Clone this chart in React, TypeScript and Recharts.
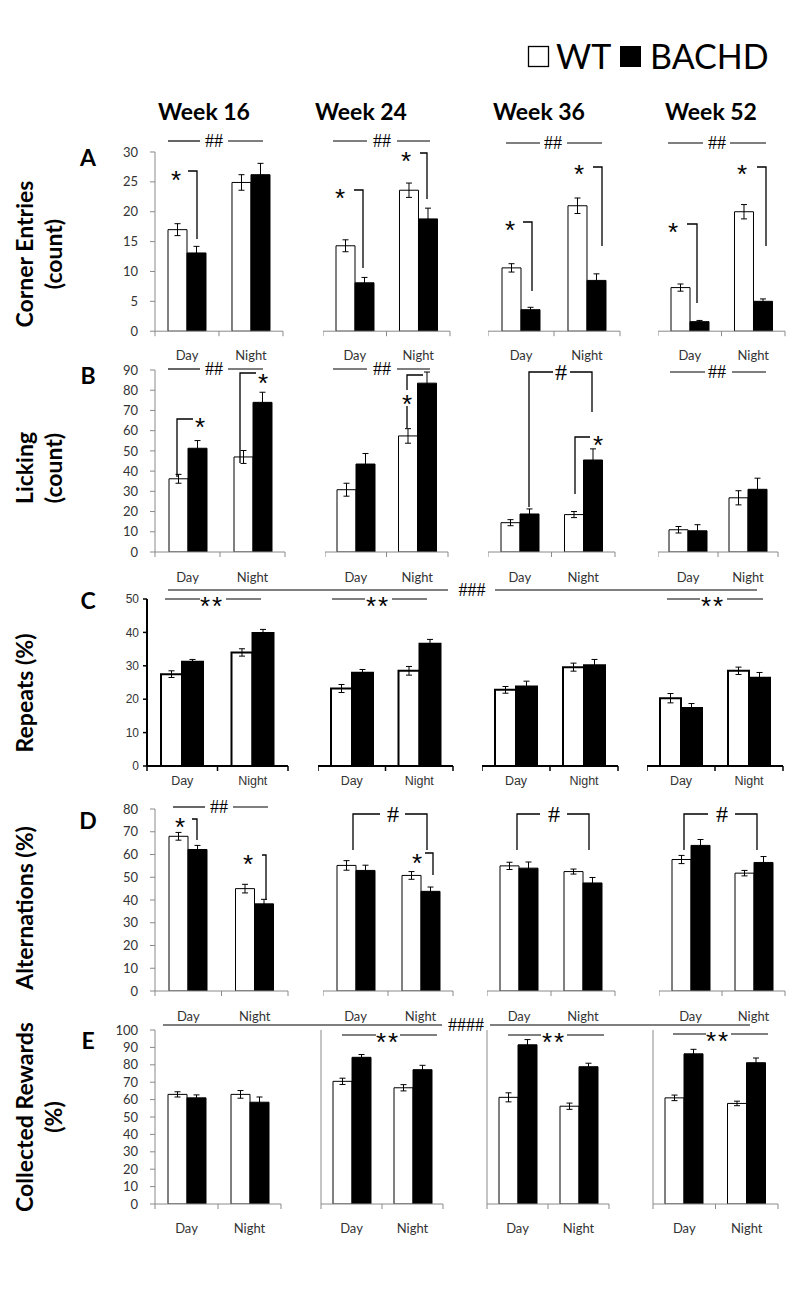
import React from "react";
import { BarChart, Bar, XAxis, YAxis, ErrorBar } from "recharts";

// categories
const periods = ["Day", "Night"];
const weeks = ["Week 16", "Week 24", "Week 36", "Week 52"];

// each entry = one week, [Day, Night]
const cornerWT = [[17.0, 24.9], [14.3, 23.6], [10.6, 21.0], [7.3, 20.0]];
const cornerWTErr = [[1.0, 1.3], [1.0, 1.2], [0.7, 1.3], [0.6, 1.2]];
const cornerBACHD = [[13.1, 26.2], [8.1, 18.8], [3.6, 8.5], [1.6, 5.0]];
const cornerBACHDErr = [[1.1, 1.9], [0.9, 1.8], [0.4, 1.1], [0.2, 0.4]];

const lickWT = [[36.2, 47.0], [30.8, 57.4], [14.5, 18.5], [11.0, 26.8]];
const lickWTErr = [[2.2, 3.2], [3.2, 3.6], [1.5, 1.5], [1.6, 3.5]];
const lickBACHD = [[51.3, 74.0], [43.5, 83.5], [18.8, 45.5], [10.5, 31.0]];
const lickBACHDErr = [[3.8, 5.0], [5.2, 5.5], [2.5, 5.5], [3.0, 5.5]];

const repWT = [[27.5, 34.0], [23.2, 28.5], [22.8, 29.6], [20.3, 28.5]];
const repWTErr = [[1.0, 1.1], [1.2, 1.3], [1.0, 1.2], [1.4, 1.1]];
const repBACHD = [[31.2, 39.8], [27.9, 36.6], [23.8, 30.2], [17.4, 26.4]];
const repBACHDErr = [[0.7, 1.1], [1.0, 1.3], [1.6, 1.7], [1.3, 1.6]];

const altWT = [[68.0, 45.0], [55.2, 50.8], [55.0, 52.5], [57.8, 51.8]];
const altWTErr = [[1.7, 1.9], [2.1, 1.7], [1.6, 1.1], [1.8, 1.2]];
const altBACHD = [[62.2, 38.3], [53.0, 43.8], [54.0, 47.5], [64.0, 56.5]];
const altBACHDErr = [[1.8, 2.0], [2.3, 1.9], [2.7, 2.4], [2.6, 2.6]];

const rewWT = [[63.0, 63.0], [70.5, 66.8], [61.3, 56.2], [61.0, 57.8]];
const rewWTErr = [[1.5, 2.2], [1.8, 1.8], [2.6, 1.8], [1.6, 1.3]];
const rewBACHD = [[61.0, 58.5], [84.3, 77.2], [91.5, 78.9], [86.3, 81.2]];
const rewBACHDErr = [[1.7, 3.0], [1.6, 2.5], [3.0, 2.0], [2.6, 2.7]];

// y tick labels
const cornerTicks = [0, 5, 10, 15, 20, 25, 30];
const lickTicks = [0, 10, 20, 30, 40, 50, 60, 70, 80, 90];
const repTicks = [0, 10, 20, 30, 40, 50];
const altTicks = [0, 10, 20, 30, 40, 50, 60, 70, 80];
const rewTicks = [0, 10, 20, 30, 40, 50, 60, 70, 80, 90, 100];

const measures = [
  { wt: cornerWT, wtErr: cornerWTErr, ba: cornerBACHD, baErr: cornerBACHDErr, ticks: cornerTicks },
  { wt: lickWT, wtErr: lickWTErr, ba: lickBACHD, baErr: lickBACHDErr, ticks: lickTicks },
  { wt: repWT, wtErr: repWTErr, ba: repBACHD, baErr: repBACHDErr, ticks: repTicks },
  { wt: altWT, wtErr: altWTErr, ba: altBACHD, baErr: altBACHDErr, ticks: altTicks },
  { wt: rewWT, wtErr: rewWTErr, ba: rewBACHD, baErr: rewBACHDErr, ticks: rewTicks },
];

// layout of each row: plot top/bottom and x-axis start/width of each panel
const rows = [
  { top: 152.3, base: 331.5, axes: [[155, 128], [323, 127], [488, 132], [658, 127]], yAll: false, prism: false, lab: 24 },
  { top: 369.5, base: 551.5, axes: [[155, 130], [325, 123], [488, 127], [658, 120]], yAll: false, prism: false, lab: 25 },
  { top: 599, base: 766, axes: [[147, 141], [318, 135], [482, 136], [647, 136]], yAll: false, prism: true, lab: 15 },
  { top: 809, base: 991, axes: [[155, 133], [323, 130], [487, 128], [659, 126]], yAll: false, prism: false, lab: 25 },
  { top: 1030, base: 1204, axes: [[155, 126], [321, 122], [487, 122], [653, 125]], yAll: true, prism: false, lab: 24 },
];

const CAL = "Lato, 'Open Sans', sans-serif";
const ARIAL = "'Liberation Sans', Arial, sans-serif";

function Panel({ m, w, lay, p }: any) {
  const [axisX, axisW] = lay.axes[p];
  const showY = p === 0 || lay.yAll;
  const labels = p === 0;
  const prism = lay.prism;
  const axisColor = prism ? "#000" : "#8a8a8a";
  const MT = 14;
  const XH = 44;
  const MR = 4;
  const yw = showY ? (labels ? 60 : 12) : 0;
  const plotH = lay.base - lay.top;
  const max = m.ticks[m.ticks.length - 1];
  const data = periods.map((period, i) => ({
    period,
    wt: m.wt[w][i],
    wtErr: m.wtErr[w][i],
    ba: m.ba[w][i],
    baErr: m.baErr[w][i],
  }));
  const bw = axisW / 2;
  const renderTick = (t: any) => (
    <g>
      <line x1={t.x - bw / 2} x2={t.x - bw / 2} y1={t.y} y2={t.y + 5} stroke={axisColor} strokeWidth={prism ? 1.5 : 1} />
      {t.index === 1 && (
        <line x1={t.x + bw / 2} x2={t.x + bw / 2} y1={t.y} y2={t.y + 5} stroke={axisColor} strokeWidth={prism ? 1.5 : 1} />
      )}
      <text
        x={t.x}
        y={t.y + lay.lab}
        textAnchor="middle"
        dominantBaseline="central"
        fontFamily={prism ? ARIAL : CAL}
        fontSize={prism ? 12.5 : 13}
        fill="#333"
      >
        {t.payload.value}
      </text>
    </g>
  );
  const bs = prism ? 21 : 19;
  return (
    <div style={{ position: "absolute", left: axisX - yw, top: lay.top - MT }}>
      <BarChart
        width={yw + axisW + MR}
        height={MT + plotH + XH}
        data={data}
        margin={{ top: MT, right: MR, bottom: 0, left: 0 }}
        barGap={0}
      >
        <XAxis
          dataKey="period"
          height={XH}
          interval={0}
          tickSize={0}
          tickMargin={0}
          tickLine={false}
          axisLine={{ stroke: axisColor, strokeWidth: prism ? 2 : 1 }}
          tick={renderTick}
        />
        <YAxis
          type="number"
          domain={[0, max]}
          ticks={m.ticks}
          interval={0}
          hide={!showY}
          width={yw}
          tickSize={prism ? 4 : 5}
          tickMargin={prism ? 4 : 12}
          axisLine={{ stroke: axisColor, strokeWidth: prism ? 2 : 1 }}
          tickLine={{ stroke: axisColor, strokeWidth: prism ? 1.5 : 1 }}
          tick={labels ? { fontFamily: prism ? ARIAL : CAL, fontSize: prism ? 12 : 13, fill: "#333" } : false}
          allowDataOverflow
        />
        <Bar dataKey="wt" fill="#fff" stroke="#000" strokeWidth={prism ? 2 : 1} barSize={bs} isAnimationActive={false}>
          <ErrorBar dataKey="wtErr" width={3} stroke="#000" strokeWidth={1} direction="y" isAnimationActive={false} />
        </Bar>
        <Bar dataKey="ba" fill="#000" stroke="#000" strokeWidth={prism ? 2 : 1} barSize={bs} isAnimationActive={false}>
          <ErrorBar dataKey="baErr" width={3} stroke="#000" strokeWidth={1} direction="y" isAnimationActive={false} />
        </Bar>
      </BarChart>
    </div>
  );
}

// significance annotations (pixel layout)
const sigLines = [
  { y: 141, segs: [[168, 200], [228, 263]], label: "##", lx: 214, fs: 18 },
  { y: 141, segs: [[333, 367], [397, 430]], label: "##", lx: 382, fs: 18 },
  { y: 143, segs: [[506, 540], [567, 602]], label: "##", lx: 553, fs: 18 },
  { y: 143, segs: [[668, 703], [730, 766]], label: "##", lx: 717, fs: 18 },
  { y: 369, segs: [[168, 200], [228, 263]], label: "##", lx: 214, fs: 18 },
  { y: 369, segs: [[333, 367], [397, 430]], label: "##", lx: 382, fs: 18 },
  { y: 372, segs: [[670, 705], [732, 766]], label: "##", lx: 717, fs: 18 },
  { y: 590, segs: [[168, 448], [495, 757]], label: "###", lx: 472, fs: 18 },
  { y: 599, segs: [[165, 200], [226, 261]], label: "**", lx: 212, fs: 26, arial: true },
  { y: 599, segs: [[332, 365], [392, 427]], label: "**", lx: 378, fs: 26, arial: true },
  { y: 599, segs: [[667, 700], [727, 763]], label: "**", lx: 713, fs: 26, arial: true },
  { y: 807, segs: [[173, 205], [233, 268]], label: "##", lx: 219, fs: 18 },
  { y: 1025, segs: [[163, 442], [490, 750]], label: "####", lx: 466, fs: 18 },
  { y: 1035, segs: [[342, 376], [400, 437]], label: "**", lx: 388, fs: 26, arial: true },
  { y: 1035, segs: [[508, 541], [567, 604]], label: "**", lx: 554, fs: 26, arial: true },
  { y: 1034, segs: [[673, 706], [731, 768]], label: "**", lx: 718, fs: 26, arial: true },
];

const brackets = [
  [[188, 171], [197, 171], [197, 239]],
  [[354, 190], [363, 190], [363, 268]],
  [[420, 153], [427, 153], [427, 199]],
  [[523, 222], [532, 222], [532, 291]],
  [[593, 167], [602, 167], [602, 246]],
  [[687, 224], [697, 224], [697, 303]],
  [[757, 167], [766, 167], [766, 246]],
  [[177, 477], [177, 419], [193, 419]],
  [[240, 463], [240, 373], [256, 373]],
  [[407, 390], [407, 375], [423, 375]],
  [[407, 406], [407, 428]],
  [[529, 507], [529, 372], [553, 372]],
  [[570, 372], [592, 372], [592, 412]],
  [[575, 494], [575, 437], [590, 437]],
  [[192, 819], [197, 819], [197, 840]],
  [[262, 855], [266, 855], [266, 900]],
  [[353, 850], [353, 814], [380, 814]],
  [[405, 814], [427, 814], [427, 850]],
  [[425, 853], [433, 853], [433, 875]],
  [[517, 850], [517, 814], [540, 814]],
  [[567, 814], [589, 814], [589, 850]],
  [[684, 850], [684, 814], [708, 814]],
  [[735, 814], [757, 814], [757, 850]],
];

const marks = [
  { x: 176, y: 174, s: "*" },
  { x: 340, y: 192, s: "*" },
  { x: 406, y: 155, s: "*" },
  { x: 510, y: 224, s: "*" },
  { x: 579, y: 168, s: "*" },
  { x: 673, y: 226, s: "*" },
  { x: 742, y: 168, s: "*" },
  { x: 200, y: 421, s: "*" },
  { x: 263, y: 377, s: "*" },
  { x: 407, y: 398, s: "*" },
  { x: 598, y: 439, s: "*" },
  { x: 180, y: 821, s: "*" },
  { x: 248, y: 858, s: "*" },
  { x: 417, y: 857, s: "*" },
  { x: 561, y: 372, s: "#" },
  { x: 393, y: 814, s: "#" },
  { x: 554, y: 814, s: "#" },
  { x: 722, y: 814, s: "#" },
];

const rowTitles = [
  { lines: ["Corner Entries", "(count)"], y: 254 },
  { lines: ["Licking", "(count)"], y: 468 },
  { lines: ["Repeats (%)"], y: 693 },
  { lines: ["Alternations (%)"], y: 908 },
  { lines: ["Collected Rewards", "(%)"], y: 1117 },
];
const letters = [["A", 157], ["B", 375], ["C", 600], ["D", 820], ["E", 1040]];
const weekX = [204, 361, 539, 711];

function Overlay() {
  return (
    <svg width={799} height={1292} style={{ position: "absolute", left: 0, top: 0, pointerEvents: "none" }}>
      {/* legend */}
      <rect x={528.5} y={46.5} width={20} height={20} fill="#fff" stroke="#000" strokeWidth={1.3} />
      <text x={556} y={69} fontFamily={CAL} fontSize={34} fill="#000">WT</text>
      <rect x={620} y={46} width={21} height={21} fill="#000" />
      <text x={650} y={69} fontFamily={CAL} fontSize={34} fill="#000">BACHD</text>

      {weeks.map((wk, i) => (
        <text key={wk} x={weekX[i]} y={111} textAnchor="middle" dominantBaseline="central" fontFamily={CAL} fontWeight={700} fontSize={23}>
          {wk}
        </text>
      ))}
      {letters.map(([l, y]) => (
        <text key={l} x={88} y={y} textAnchor="middle" dominantBaseline="central" fontFamily={CAL} fontWeight={700} fontSize={23}>
          {l}
        </text>
      ))}
      {rowTitles.map((r, i) =>
        r.lines.map((ln, j) => (
          <text
            key={i + "-" + j}
            x={24 + j * 29}
            y={r.y}
            transform={`rotate(-90, ${24 + j * 29}, ${r.y})`}
            textAnchor="middle"
            dominantBaseline="central"
            fontFamily={CAL}
            fontWeight={700}
            fontSize={23}
          >
            {ln}
          </text>
        ))
      )}

      {sigLines.map((s, i) => (
        <g key={"s" + i}>
          {s.segs.map((g, k) => (
            <line key={k} x1={g[0]} x2={g[1]} y1={s.y} y2={s.y} stroke="#000" strokeWidth={1.2} />
          ))}
          <text
            x={s.lx}
            y={s.arial ? s.y + s.fs * 0.6 : s.y + s.fs * 0.36}
            textAnchor="middle"
            fontFamily={s.arial ? ARIAL : "'Liberation Serif', serif"}
            fontSize={s.fs}
            letterSpacing={s.arial ? 2 : 0}
          >
            {s.label}
          </text>
        </g>
      ))}
      {brackets.map((b, i) => (
        <polyline key={"b" + i} points={b.map((pt) => pt.join(",")).join(" ")} fill="none" stroke="#000" strokeWidth={1.3} />
      ))}
      {marks.map((mk, i) =>
        mk.s === "*" ? (
          <text key={"m" + i} x={mk.x} y={mk.y + 15} textAnchor="middle" fontFamily={ARIAL} fontSize={26}>
            *
          </text>
        ) : (
          <text key={"m" + i} x={mk.x} y={mk.y + 8} textAnchor="middle" fontFamily="'Liberation Serif', serif" fontSize={24}>
            #
          </text>
        )
      )}
    </svg>
  );
}

export default function App() {
  return (
    <div style={{ position: "absolute", left: 0, top: 0, width: 799, height: 1292, background: "#fff", overflow: "hidden" }}>
      {rows.map((lay, r) =>
        weeks.map((wk, w) => <Panel key={r + "-" + w} m={measures[r]} w={w} lay={lay} p={w} />)
      )}
      <Overlay />
    </div>
  );
}
